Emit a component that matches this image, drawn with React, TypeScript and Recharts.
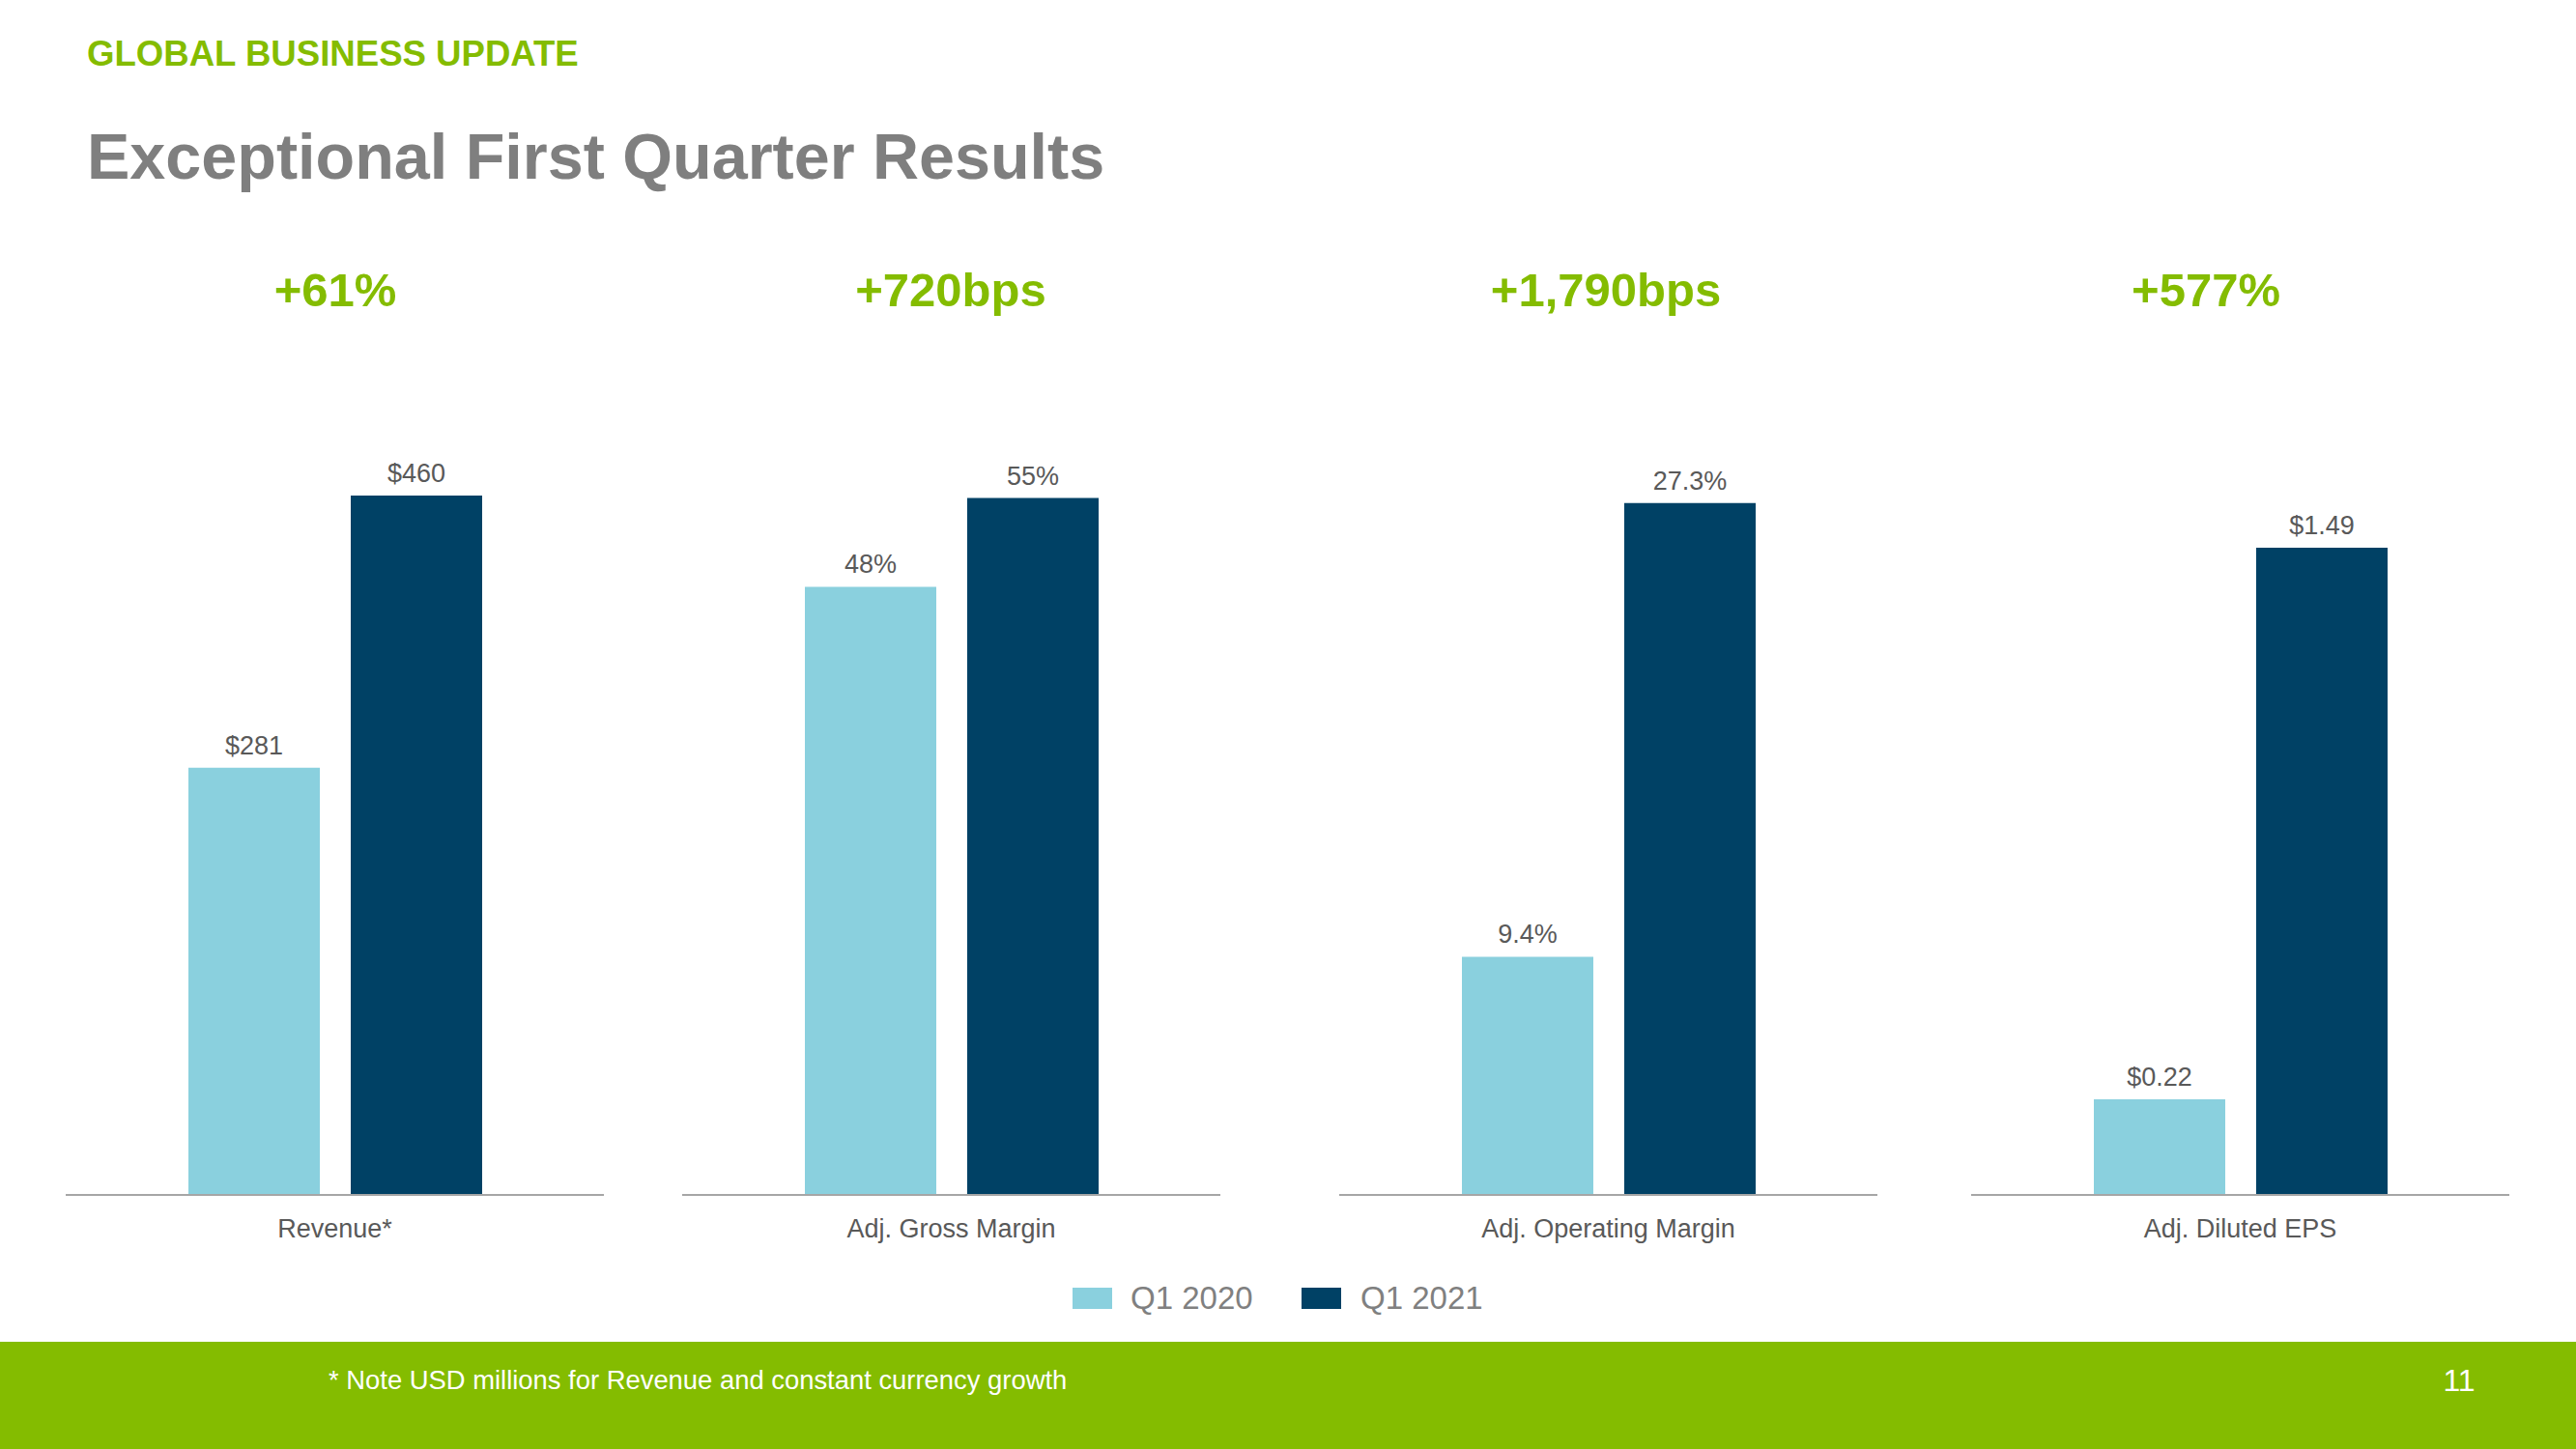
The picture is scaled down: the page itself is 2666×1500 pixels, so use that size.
import React from 'react';
import { BarChart, Bar, XAxis, YAxis, LabelList } from 'recharts';

const categories = ['Revenue*', 'Adj. Gross Margin', 'Adj. Operating Margin', 'Adj. Diluted EPS'];
const seriesNames = ['Q1 2020', 'Q1 2021'];
const q12020 = [281, 48, 9.4, 0.22];
const q12021 = [460, 55, 27.3, 1.49];
const labels2020 = ['$281', '48%', '9.4%', '$0.22'];
const labels2021 = ['$460', '55%', '27.3%', '$1.49'];
const growthLabels = ['+61%', '+720bps', '+1,790bps', '+577%'];
const axisMax = [500, 60, 30, 1.75];

const headerText = 'GLOBAL BUSINESS UPDATE';
const titleText = 'Exceptional First Quarter Results';
const footnote = '* Note USD millions for Revenue and constant currency growth';
const pageNumber = '11';

// layout (not data)
const FONT = "'Liberation Sans', Arial, Helvetica, sans-serif";
const GREEN = '#84BC00';
const LIGHT = '#8AD0DE';
const DARK = '#004165';
const panelLeft = [68, 706, 1386, 2040];
const panelWidth = 557;
const growthX = [347, 984, 1662, 2283];
const chartTop = 401;
const chartHeight = 900;

function Panel({ i }: { i: number }) {
  const data = [
    {
      name: categories[i],
      q2020: q12020[i],
      q2021: q12021[i],
      l2020: labels2020[i],
      l2021: labels2021[i],
    },
  ];
  return (
    <div style={{ position: 'absolute', left: panelLeft[i], top: chartTop }}>
      <BarChart
        width={panelWidth}
        height={chartHeight}
        data={data}
        margin={{ top: 49, right: 0, left: 0, bottom: 0 }}
        barGap={32}
      >
        <XAxis
          dataKey="name"
          height={64}
          tickLine={false}
          tickSize={0}
          tickMargin={25}
          interval={0}
          axisLine={{ stroke: '#A6A6A6', strokeWidth: 2 }}
          tick={{ fill: '#595959', fontSize: 27, fontFamily: FONT }}
        />
        <YAxis hide domain={[0, axisMax[i]]} allowDataOverflow />
        <Bar dataKey="q2020" name={seriesNames[0]} fill={LIGHT} barSize={136} isAnimationActive={false}>
          <LabelList dataKey="l2020" position="top" offset={14} fill="#595959" fontSize={27} fontFamily={FONT} />
        </Bar>
        <Bar dataKey="q2021" name={seriesNames[1]} fill={DARK} barSize={136} isAnimationActive={false}>
          <LabelList dataKey="l2021" position="top" offset={14} fill="#595959" fontSize={27} fontFamily={FONT} />
        </Bar>
      </BarChart>
    </div>
  );
}

export default function App() {
  return (
    <div
      style={{
        position: 'absolute',
        left: 0,
        top: 0,
        width: 2666,
        height: 1500,
        background: '#FFFFFF',
        overflow: 'hidden',
        fontFamily: FONT,
      }}
    >
      <svg width={2666} height={1500} style={{ position: 'absolute', left: 0, top: 0 }}>
        <text x={90} y={68} fill={GREEN} fontSize={36.6} fontWeight="bold" fontFamily={FONT}>
          {headerText}
        </text>
        <text x={90} y={185} fill="#7F7F7F" fontSize={66.5} fontWeight="bold" fontFamily={FONT}>
          {titleText}
        </text>
        {growthLabels.map((g, i) => (
          <text key={g} x={growthX[i]} y={317} fill={GREEN} fontSize={49} fontWeight="bold" fontFamily={FONT} textAnchor="middle">
            {g}
          </text>
        ))}
        <rect x={1110} y={1333} width={41} height={22} fill={LIGHT} />
        <text x={1170} y={1355} fill="#808080" fontSize={33} fontFamily={FONT}>
          {seriesNames[0]}
        </text>
        <rect x={1347} y={1333} width={41} height={22} fill={DARK} />
        <text x={1408} y={1355} fill="#808080" fontSize={33} fontFamily={FONT}>
          {seriesNames[1]}
        </text>
        <rect x={0} y={1389} width={2666} height={111} fill={GREEN} />
        <text x={340} y={1438} fill="#FFFFFF" fontSize={27.4} fontFamily={FONT}>
          {footnote}
        </text>
        <text x={2545} y={1440} fill="#FFFFFF" fontSize={32} fontFamily={FONT} textAnchor="middle">
          {pageNumber}
        </text>
      </svg>
      {categories.map((c, i) => (
        <Panel key={c} i={i} />
      ))}
    </div>
  );
}
